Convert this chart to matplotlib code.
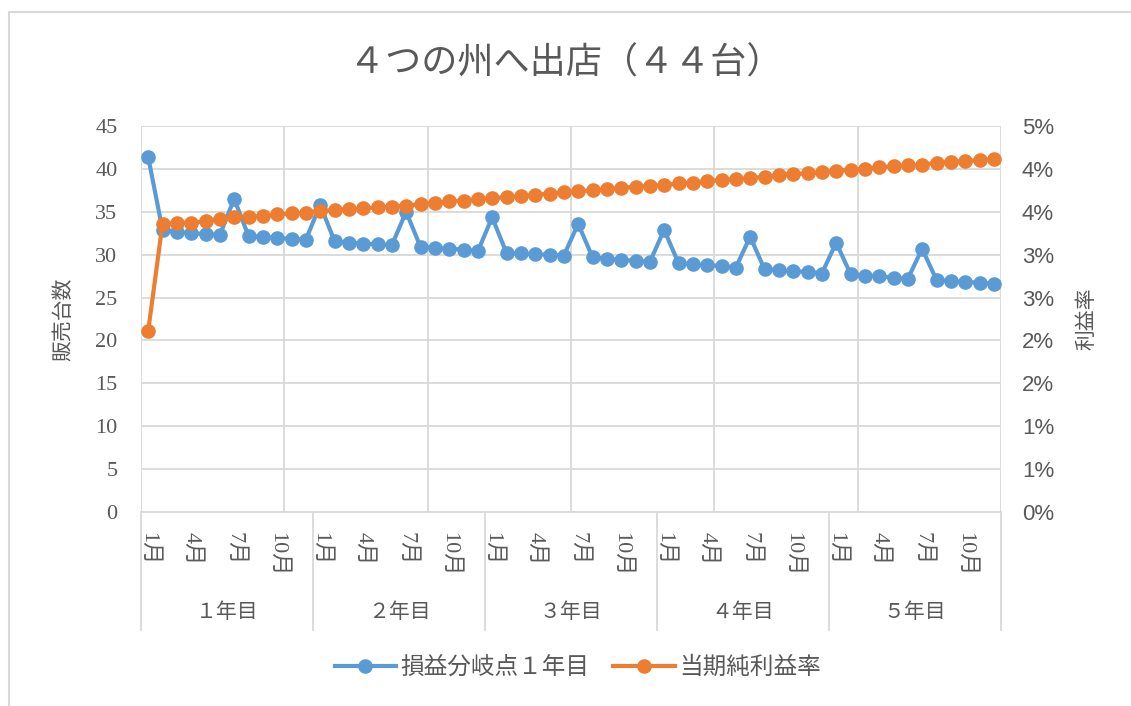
import numpy as np
import matplotlib
matplotlib.use("Agg")
import matplotlib.pyplot as plt
from matplotlib.lines import Line2D
from matplotlib.patches import Rectangle
from matplotlib.ticker import FuncFormatter
import matplotlib.transforms as mtransforms

plt.rcParams['font.family'] = ['Liberation Serif', 'Noto Sans CJK JP', 'DejaVu Sans']

# ---- data ----
title = '４つの州へ出店（４４台）'
years = ['１年目', '２年目', '３年目', '４年目', '５年目']
month_labels = ['1月', '4月', '7月', '10月']
month_label_pos = [0, 3, 6, 9]          # month index within a year
series_names = ['損益分岐点１年目', '当期純利益率']

breakeven_units = [
    41.4, 32.9, 32.6, 32.5, 32.4, 32.3, 36.5, 32.2, 32.05, 31.95, 31.85, 31.75,
    35.8, 31.6, 31.4, 31.3, 31.2, 31.1, 35.0, 30.9, 30.8, 30.7, 30.6, 30.4,
    34.35, 30.2, 30.15, 30.05, 30.0, 29.9, 33.6, 29.7, 29.5, 29.4, 29.3, 29.15,
    32.9, 29.0, 28.9, 28.75, 28.7, 28.5, 32.1, 28.3, 28.2, 28.05, 28.0, 27.8,
    31.4, 27.75, 27.55, 27.5, 27.3, 27.2, 30.7, 27.05, 26.9, 26.8, 26.75, 26.6,
]

net_margin_pct = [
    2.11, 3.36, 3.37, 3.37, 3.39, 3.42, 3.44, 3.44, 3.45, 3.47, 3.48, 3.49,
    3.51, 3.52, 3.53, 3.54, 3.55, 3.56, 3.57, 3.59, 3.60, 3.62, 3.63, 3.65,
    3.66, 3.67, 3.68, 3.70, 3.71, 3.73, 3.74, 3.75, 3.76, 3.78, 3.79, 3.80,
    3.81, 3.83, 3.84, 3.86, 3.87, 3.88, 3.89, 3.91, 3.93, 3.94, 3.95, 3.96,
    3.98, 3.99, 4.00, 4.02, 4.03, 4.04, 4.05, 4.07, 4.08, 4.09, 4.10, 4.12,
]

# ---- styling ----
TEXT = '#595959'
GRID = '#d9d9d9'
BLUE = '#5B9BD5'
ORANGE = '#ED7D31'
W, H = 1131, 706

fig = plt.figure(figsize=(W / 100, H / 100), dpi=100)
fig.patch.set_facecolor('white')

# chart-area border
fig.add_artist(Rectangle((8.5 / W, -0.05), 1.2, (H - 12) / H + 0.05,
                         transform=fig.transFigure, fill=False,
                         ec=GRID, lw=1.5))

L, R, T, B = 141, 1001, 126, 512
ax = fig.add_axes([L / W, 1 - B / H, (R - L) / W, (B - T) / H])
n = len(breakeven_units)
x = np.arange(n) + 0.5

ax.set_xlim(0, n)
ax.set_ylim(0, 45)
ax.set_yticks(np.arange(0, 46, 5))
ax.set_xticks(np.arange(0, n + 1, 10))
ax.set_xticklabels([])
ax.tick_params(axis='x', length=0)
ax.tick_params(axis='y', length=0, pad=17, labelsize=16, labelcolor=TEXT)
ax.set_axisbelow(True)
ax.grid(True, color=GRID, lw=1.3)
for s in ['top', 'left', 'right']:
    ax.spines[s].set_visible(False)
ax.spines['bottom'].set_color(GRID)
ax.spines['bottom'].set_linewidth(1.3)

ax.plot(x, breakeven_units, color=BLUE, lw=3, marker='o', ms=9.5,
        solid_capstyle='round', zorder=3)

ax.set_ylabel('販売台数', fontsize=15, color=TEXT, va='center')
ax.yaxis.set_label_coords((65 - L) / (R - L), 0.5)

ax2 = ax.twinx()
ax2.set_ylim(0, 0.045)
ax2.set_yticks(np.arange(0, 0.0451, 0.005))
ax2.yaxis.set_major_formatter(
    FuncFormatter(lambda v, p: f'{int(v * 100 + 0.5 + 1e-9)}%'))
ax2.tick_params(axis='y', length=0, pad=15, labelsize=16, labelcolor=TEXT)
for lab in ax2.get_yticklabels():
    lab.set_family('Liberation Sans')
for s in ax2.spines.values():
    s.set_visible(False)
ax2.plot(x, np.array(net_margin_pct) / 100, color=ORANGE, lw=3, marker='o',
         ms=9.5, solid_capstyle='round', zorder=3)
ax2.set_ylabel('利益率', fontsize=15, color=TEXT, rotation=90, va='center')
ax2.yaxis.set_label_coords((1088 - L) / (R - L), 0.5)

# multi-level category axis: months, then years with separators
trans = mtransforms.blended_transform_factory(ax.transData, ax.transAxes)
ph = B - T
for yi, yname in enumerate(years):
    base = yi * 12
    for m, lab in zip(month_label_pos, month_labels):
        ax.text(base + m + 0.5, -20 / ph, lab, transform=trans, rotation=-90,
                ha='center', va='top', fontsize=16, color=TEXT)
    ax.text(base + 6, -101 / ph, yname, transform=trans, ha='center',
            va='center', fontsize=15, color=TEXT)
for k in range(len(years) + 1):
    ax.add_line(Line2D([k * 12, k * 12], [0, -118 / ph], transform=trans,
                       color=GRID, lw=1.3, clip_on=False))

fig.text(566 / W, 1 - 64 / H, title, ha='center', va='center', fontsize=26,
         color=TEXT)

handles = [Line2D([], [], color=BLUE, lw=3, marker='o', ms=9.5),
           Line2D([], [], color=ORANGE, lw=3, marker='o', ms=9.5)]
fig.legend(handles, series_names, loc='center', bbox_to_anchor=(578 / W, 1 - 668 / H),
           ncol=2, frameon=False, fontsize=17, handlelength=2.6,
           handletextpad=0.2, columnspacing=1.0, labelcolor=TEXT)

fig.savefig('out.png', dpi=100)
